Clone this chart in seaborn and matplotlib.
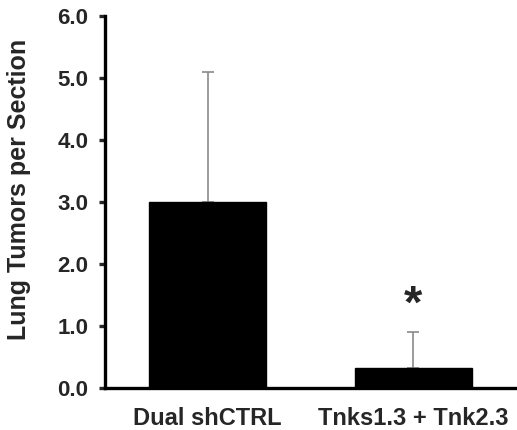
import matplotlib
matplotlib.use("Agg")
import matplotlib.pyplot as plt
import seaborn as sns
import pandas as pd
import numpy as np

categories = ["Dual shCTRL", "Tnks1.3 + Tnk2.3"]
means = [3.0, 0.33]
upper_err = [2.1, 0.58]
yticks = [0.0, 1.0, 2.0, 3.0, 4.0, 5.0, 6.0]

sns.set_style("white")
plt.rcParams['font.family'] = ['Liberation Sans', 'DejaVu Sans']
plt.rcParams['font.weight'] = 'bold'

df = pd.DataFrame({"group": categories, "value": means})

fig = plt.figure(figsize=(5.17, 4.30), dpi=100)
ax = fig.add_axes([0.203, 0.0977, 0.795, 0.865])

sns.barplot(data=df, x="group", y="value", color="black", width=0.57,
            edgecolor="black", errorbar=None, ax=ax, saturation=1)

x = np.arange(len(categories))
ax.errorbar(x, means, yerr=[np.zeros(len(means)), upper_err], fmt="none",
            ecolor="#8a8a8a", elinewidth=1.2, capsize=4.5, capthick=1.2, zorder=0)

ax.set_xlim(-0.5, 1.5)
ax.set_ylim(0, 6.0)
ax.set_yticks(yticks)
ax.set_yticklabels([f"{v:.1f}" for v in yticks], fontsize=16, fontweight="bold")
ax.set_xticks(x)
ax.set_xticklabels(categories, fontsize=17, fontweight="bold")
ax.set_xticks([-0.5, 0.5, 1.5], minor=True)
ax.tick_params(axis="x", which="major", length=0, pad=14)
ax.tick_params(axis="x", which="minor", length=5, width=2.4, direction="out")
ax.tick_params(axis="y", length=4, width=2.4, direction="out", pad=8, left=True)
ax.set_xlabel("")
ax.set_ylabel("Lung Tumors per Section", fontsize=18, fontweight="bold")
ax.yaxis.set_label_coords(-0.18, 0.535)

for s in ["top", "right"]:
    ax.spines[s].set_visible(False)
for s in ["left", "bottom"]:
    ax.spines[s].set_linewidth(2.4)
    ax.spines[s].set_color("black")

ax.text(1, 1.33, "*", ha="center", va="center", fontsize=34, fontweight="bold")

fig.savefig("out.png", dpi=100)
